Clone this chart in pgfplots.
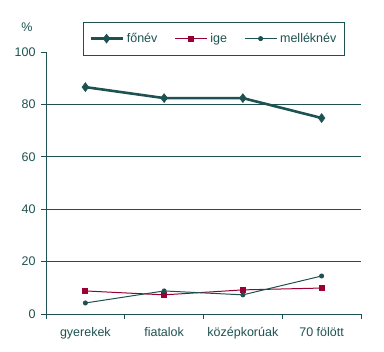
\documentclass[border=0pt]{standalone}
\usepackage{pgfplots}
\pgfplotsset{compat=1.18}
\usepackage{fontspec}
\setmainfont{Liberation Sans}
\definecolor{tealc}{HTML}{1E5252}
\definecolor{igec}{HTML}{990033}
\begin{document}
\begin{tikzpicture}
\path[use as bounding box] (-46pt,-38pt) rectangle (338pt,314pt);
\begin{axis}[
  scale only axis,
  width=315pt, height=262pt,
  anchor=south west, at={(0,0)},
  xmin=-0.5, xmax=3.5, ymin=0, ymax=100,
  axis x line*=bottom, axis y line*=left,
  axis line style={tealc, line width=0.8pt, -},
  xtick={-0.5,0.5,1.5,2.5,3.5},
  xticklabels={gyerekek,fiatalok,középkorúak,70 fölött,},
  x tick label as interval,
  ytick={0,20,...,100},
  tick align=outside,
  major tick length=5pt,
  tick style={tealc, line width=0.8pt},
  every tick label/.append style={font=\fontsize{12.5}{14}\selectfont, text=tealc},
  xticklabel style={yshift=-5pt},
  yticklabel style={xshift=-2pt},
  /pgf/number format/assume math mode=true,
  clip=false,
  legend columns=3,
  legend style={at={(rel axis cs:0.117,1.115)}, anchor=north west,
    draw=tealc, line width=0.8pt, font=\fontsize{12.5}{14}\selectfont, text=tealc,
    inner xsep=6pt, inner ysep=9pt,
    /tikz/every odd column/.append style={column sep=1pt},
    /tikz/every even column/.append style={column sep=15pt}},
  legend cell align=left,
  legend image code/.code={\draw[mark repeat=2,mark phase=2] plot coordinates {(0pt,0pt)(16pt,0pt)(32pt,0pt)};},
]
\foreach \yy in {20,40,60,80} {
  \edef\tmp{\noexpand\draw[tealc, line width=0.8pt] (axis cs:-0.5,\yy) -- (axis cs:3.5,\yy);}
  \tmp
}
\addplot[tealc, line width=2.6pt, mark=diamond*, mark size=4.5pt, mark options={line width=0.5pt}]
  coordinates {(0,86.6) (1,82.4) (2,82.4) (3,74.8)};
\addlegendentry{főnév}
\addplot[igec, line width=1pt, mark=square*, mark size=2.4pt]
  coordinates {(0,8.8) (1,7.3) (2,9.2) (3,9.9)};
\addlegendentry{ige}
\addplot[tealc, line width=1pt, mark=*, mark size=2pt]
  coordinates {(0,4.2) (1,8.8) (2,7.3) (3,14.5)};
\addlegendentry{melléknév}
\node[text=tealc, font=\fontsize{12.5}{14}\selectfont] at (rel axis cs:0,1) [xshift=-19pt, yshift=25pt] {\%};
\end{axis}
\end{tikzpicture}
\end{document}
